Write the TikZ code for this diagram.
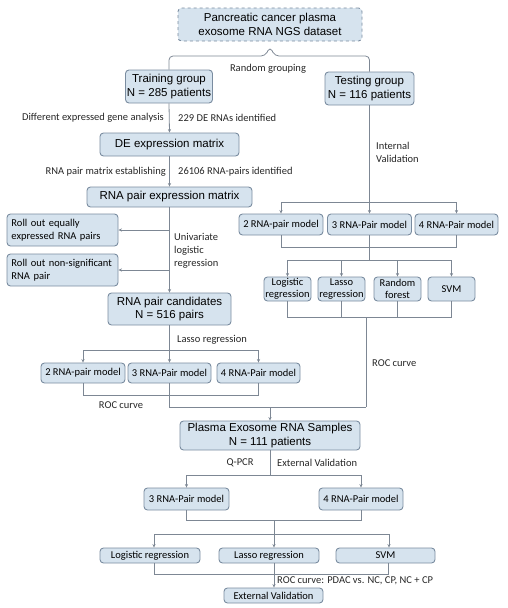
\documentclass[tikz,border=0pt]{standalone}
\usepackage{fontspec}
\setmainfont{Liberation Sans}
\newfontfamily\calibri{Carlito}
\usetikzlibrary{arrows.meta,calc}
\definecolor{boxfill}{RGB}{214,227,238}
\definecolor{boxdraw}{RGB}{122,140,160}
\definecolor{linec}{RGB}{125,135,148}
\begin{document}
\begin{tikzpicture}[x=1pt,y=-1pt,
  box/.style={draw=boxdraw, fill=boxfill, rounded corners=3.5pt, line width=0.9pt, inner sep=0pt, align=center, font=\fontsize{11.5}{13.5}\selectfont},
  cbox/.style={box, font=\calibri\fontsize{10.5}{12.5}\selectfont},
  lbl/.style={font=\calibri\fontsize{10.5}{13}\selectfont, inner sep=0pt, text=black!85},
  conn/.style={draw=linec, line width=0.8pt},
  arr/.style={conn, -{Stealth[length=3.5pt,width=3.2pt]}}]
\useasboundingbox (0,0) rectangle (508,608);
% nodes
\node[box, dashed, minimum width=184pt, minimum height=33pt] (top) at (270,24.5) {Pancreatic cancer plasma\\exosome RNA NGS dataset};
\node[box, minimum width=87pt, minimum height=33pt] (train) at (169,86.5) {Training group\\N = 285 patients};
\node[box, minimum width=89pt, minimum height=33pt] (test) at (369.5,88.5) {Testing group\\N = 116 patients};
\node[box, minimum width=139pt, minimum height=23pt] (de) at (169.5,144.5) {DE expression matrix};
\node[box, minimum width=165pt, minimum height=20pt] (rpm) at (169.5,197) {RNA pair expression matrix};
\node[cbox, align=left, text width=102pt, minimum width=111pt, minimum height=32pt, inner xsep=4.5pt] (ro1) at (62.5,230) {Roll out equally\\expressed RNA pairs};
\node[cbox, align=left, text width=102pt, minimum width=111pt, minimum height=32pt, inner xsep=4.5pt] (ro2) at (62.5,270) {Roll out non-significant\\RNA pair};
\node[box, minimum width=123pt, minimum height=32pt] (cand) at (169.5,309) {RNA pair candidates\\N = 516 pairs};
\node[cbox, minimum width=84pt, minimum height=20pt] (lm2) at (83,373) {2 RNA-pair model};
\node[cbox, minimum width=83pt, minimum height=20pt] (lm3) at (169.5,373) {3 RNA-Pair model};
\node[cbox, minimum width=83pt, minimum height=20pt] (lm4) at (258.5,373) {4 RNA-Pair model};
\node[cbox, minimum width=84pt, minimum height=21pt] (rm2) at (281,224.5) {2 RNA-pair model};
\node[cbox, minimum width=84pt, minimum height=21pt] (rm3) at (369.5,224.5) {3 RNA-Pair model};
\node[cbox, minimum width=83pt, minimum height=21pt] (rm4) at (456.5,224.5) {4 RNA-Pair model};
\node[cbox, minimum width=47pt, minimum height=24pt] (c1) at (287.5,289) {Logistic\\regression};
\node[cbox, minimum width=47pt, minimum height=24pt] (c2) at (341.5,289) {Lasso\\regression};
\node[cbox, minimum width=47pt, minimum height=24pt] (c3) at (397.5,289) {Random\\forest};
\node[cbox, minimum width=47pt, minimum height=24pt] (c4) at (451.5,289) {SVM};
\node[box, minimum width=180pt, minimum height=29pt] (plasma) at (270,435.5) {Plasma Exosome RNA Samples\\N = 111 patients};
\node[cbox, minimum width=85pt, minimum height=22pt] (em3) at (186.5,499) {3 RNA-Pair model};
\node[cbox, minimum width=84pt, minimum height=22pt] (em4) at (361,499) {4 RNA-Pair model};
\node[cbox, minimum width=100pt, minimum height=15pt] (e1) at (150,555.5) {Logistic regression};
\node[cbox, minimum width=100pt, minimum height=15pt] (e2) at (269,555.5) {Lasso regression};
\node[cbox, minimum width=99pt, minimum height=15pt] (e3) at (385.5,555.5) {SVM};
\node[cbox, minimum width=99pt, minimum height=15pt] (ext) at (273.5,595.5) {External Validation};
% labels
\node[lbl] (l1) at (268,69) {Random grouping};
\node[lbl, anchor=east] (l2) at (164,118) {Different expressed gene analysis};
\node[lbl, anchor=west] (l3) at (178,118) {229 DE RNAs identified};
\node[lbl, anchor=east] (l4) at (166,172) {RNA pair matrix establishing};
\node[lbl, anchor=west] (l5) at (178,172) {26106 RNA-pairs identified};
\node[lbl, anchor=west, align=left] (l6) at (174,251) {Univariate\\logistic\\regression};
\node[lbl, anchor=west] (l7) at (177,340) {Lasso regression};
\node[lbl] (l8) at (121,405) {ROC curve};
\node[lbl, anchor=west] (l9) at (372,363) {ROC curve};
\node[lbl, anchor=west, align=left] (l10) at (376,152.5) {Internal\\Validation};
\node[lbl] (l11) at (240,463) {Q-PCR};
\node[lbl, anchor=west] (l12) at (277,463) {External Validation};
\node[lbl, anchor=west] (l13) at (277,581) {ROC curve: PDAC vs. NC, CP, NC + CP};
% brace split
\draw[conn, rounded corners=4pt] (train.north) -- (169,56) -- (265,56) -- (270,47) -- (275,56) -- (369.5,56) -- (test.north);
% left column
\draw[arr] (train.south) -- (de.north);
\draw[arr] (de.south) -- (rpm.north);
\draw[arr] (rpm.south) -- (cand.north);
\draw[arr] (rpm.south |- ro1.east) -- (ro1.east);
\draw[arr] (rpm.south |- ro2.east) -- (ro2.east);
\coordinate (h1) at (169.5,350);
\draw[conn] (cand.south) -- (h1);
\draw[arr] (h1) -| (lm2.north);
\draw[arr] (h1) -| (lm4.north);
\draw[arr] (h1) -- (lm3.north);
\draw[conn] (lm2.south) |- (lm4.south |- 0,395) -- (lm4.south);
\coordinate (j1) at (366,407);
\coordinate (j2) at (270,407);
\draw[conn] (lm3.south) |- (j1);
\draw[arr] (j2) -- (plasma.north);
% right column
\coordinate (h2) at (369.5,202);
\draw[conn] (test.south) -- (h2);
\draw[arr] (h2) -| (rm2.north);
\draw[arr] (h2) -| (rm4.north);
\draw[arr] (h2) -- (rm3.north);
\draw[conn] (rm2.south) |- (rm4.south |- 0,247) -- (rm4.south);
\coordinate (h3) at (369.5,260);
\draw[conn] (rm3.south) -- (h3);
\draw[conn] (c1.north |- h3) -- (c4.north |- h3);
\draw[arr] (c1.north |- h3) -- (c1.north);
\draw[arr] (c2.north |- h3) -- (c2.north);
\draw[arr] (c3.north |- h3) -- (c3.north);
\draw[arr] (c4.north |- h3) -- (c4.north);
\coordinate (h4) at (366,317);
\draw[conn] (c1.south) |- (c4.south |- h4) -- (c4.south);
\draw[conn] (c2.south) -- (c2.south |- h4);
\draw[conn] (c3.south) -- (c3.south |- h4);
\draw[conn] (h4) -- (j1);
% bottom
\coordinate (h5) at (270,475);
\draw[conn] (plasma.south) -- (h5);
\draw[arr] (h5) -| (em3.north);
\draw[arr] (h5) -| (em4.north);
\coordinate (h6) at (274,520);
\draw[conn] (em3.south) |- (em4.south |- h6) -- (em4.south);
\coordinate (h7) at (274,534);
\coordinate (b1) at (154,534);
\coordinate (b3) at (389,534);
\draw[conn] (h6) -- (h7);
\draw[conn] (b1) -- (b3);
\draw[arr] (b1) -- (b1 |- e1.north);
\draw[arr] (h7) -- (h7 |- e2.north);
\draw[arr] (b3) -- (b3 |- e3.north);
\coordinate (b4) at (154,574);
\coordinate (b5) at (388,574);
\draw[conn] (b4 |- e1.south) -- (b4) -- (b5) -- (b5 |- e3.south);
\draw[arr] (h7 |- e2.south) -- (h7 |- ext.north);
\end{tikzpicture}
\end{document}
